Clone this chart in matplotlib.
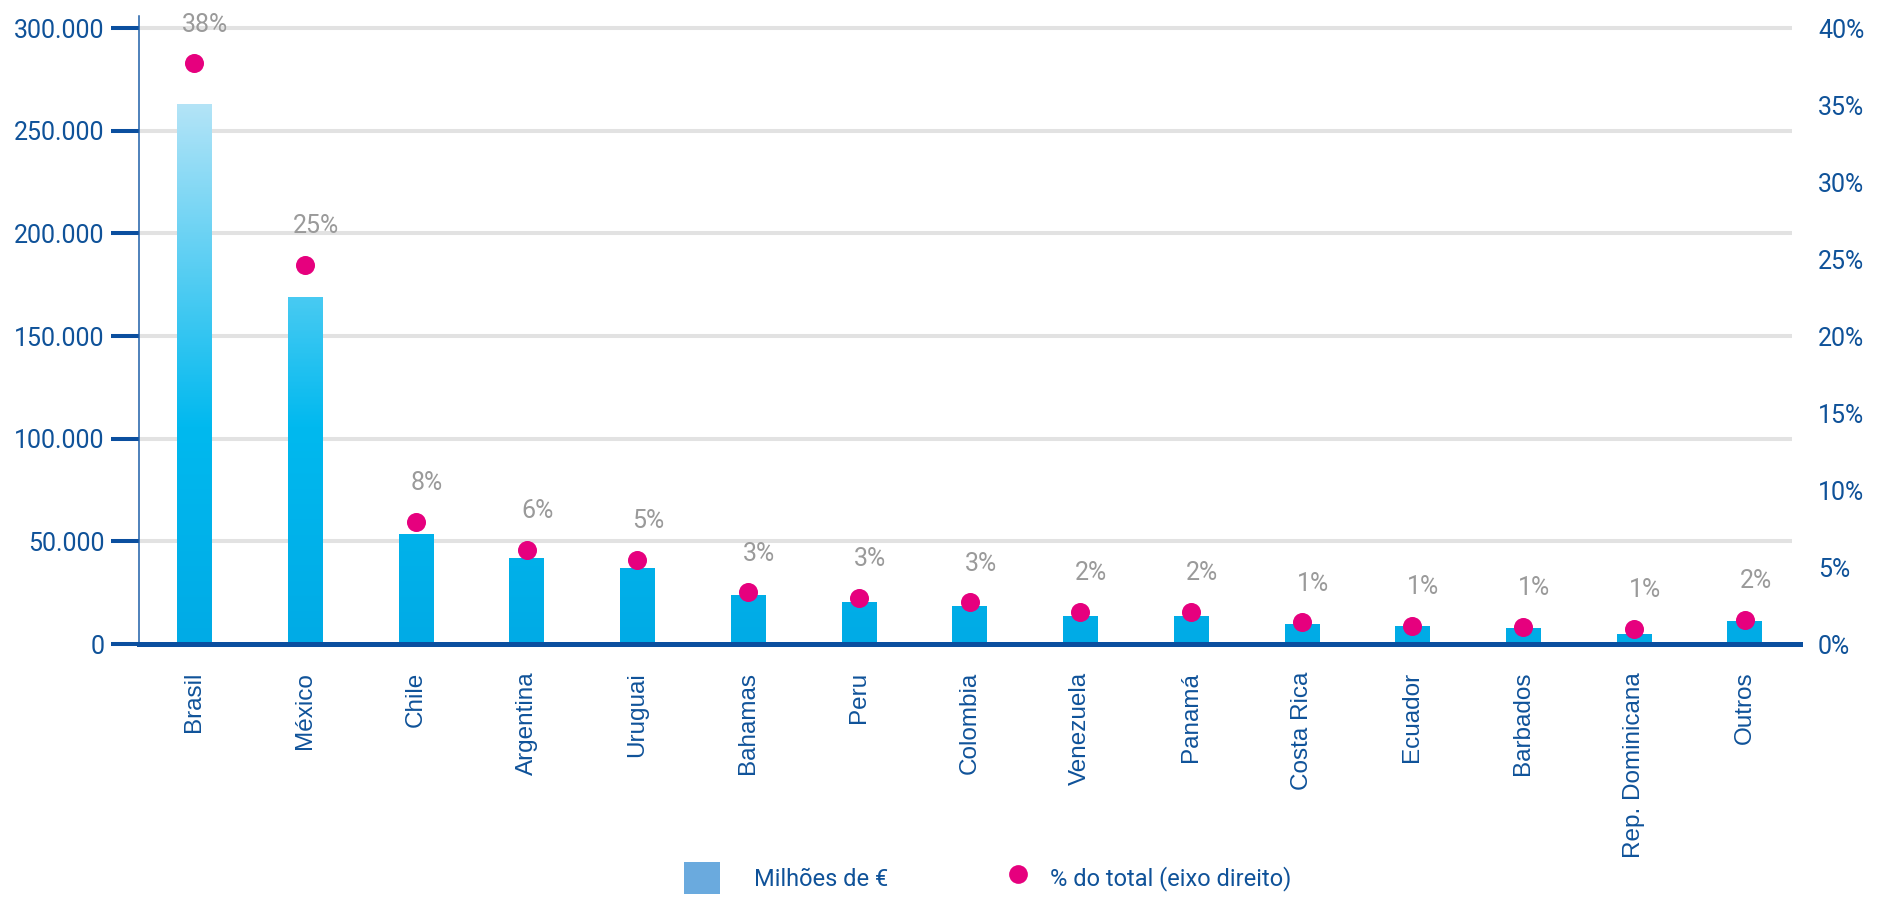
import numpy as np
import matplotlib
matplotlib.use("Agg")
import matplotlib.pyplot as plt
from matplotlib.colors import LinearSegmentedColormap, Normalize
from matplotlib.lines import Line2D
from matplotlib.patches import Rectangle

# ---------------- data ----------------
countries = ["Brasil", "México", "Chile", "Argentina", "Uruguai", "Bahamas", "Peru",
             "Colombia", "Venezuela", "Panamá", "Costa Rica", "Ecuador", "Barbados",
             "Rep. Dominicana", "Outros"]
values_meur = [263000, 169000, 53700, 42100, 36800, 24000, 20500, 18700, 13450, 13450,
               9900, 8800, 7600, 4700, 11100]
pct_total = [37.7, 24.6, 7.95, 6.1, 5.46, 3.35, 3.0, 2.7, 2.1, 2.1, 1.4, 1.2, 1.1, 1.0, 1.56]
left_ticks = [0, 50000, 100000, 150000, 200000, 250000, 300000]
right_ticks = [0, 5, 10, 15, 20, 25, 30, 35, 40]
legend_labels = ["Milhões de €", "% do total (eixo direito)"]

# ---------------- style ----------------
BLUE = "#0f5299"
GRID = "#e2e2e2"
PINK = "#e6007e"
GRAY = "#9a9a9a"
NUM_FONT = ["Roboto", "DejaVu Sans"]
CAT_FONT = ["Liberation Sans", "DejaVu Sans"]
LEG_FONT = ["Roboto", "DejaVu Sans"]

fig = plt.figure(figsize=(18.89, 9.06), dpi=100)
ax = fig.add_axes([139 / 1889, 1 - 644 / 906, (1800 - 139) / 1889, (644 - 15.7) / 906])
ax2 = ax.twinx()

x = np.arange(len(countries))
ymax = 306000

# gridlines
for t in left_ticks[1:]:
    ax.hlines(t, -0.5, len(countries) - 0.57, color=GRID, lw=2.9, zorder=0)

# bars with vertical gradient
cmap = LinearSegmentedColormap.from_list(
    "bargrad", [(0.0, "#00abe6"), (0.40, "#00b9ef"), (1.0, "#b4e4f7")])
norm = Normalize(0, max(values_meur))
bars = ax.bar(x, values_meur, width=0.31, color="none", edgecolor="none", zorder=2)
for b in bars:
    x0, w, h = b.get_x(), b.get_width(), b.get_height()
    grad = np.linspace(0, h, 256)[:, None]
    im = ax.imshow(grad, extent=[x0, x0 + w, 0, h], origin="lower", aspect="auto",
                   cmap=cmap, norm=norm, zorder=2, interpolation="bilinear")
    im.set_clip_path(b)
ax.set_xlim(-0.5, len(countries) - 0.5)
ax.set_ylim(0, ymax)
ax2.set_ylim(0, 40 * ymax / 300000)

# dots on right axis
ax2.plot(x, pct_total, linestyle="none", marker="o", markersize=13.7,
         color=PINK, markeredgewidth=0, zorder=5)
for xi, p in zip(x, pct_total):
    ax2.annotate(f"{round(p):.0f}%", (xi, p), xytext=(8, 28), textcoords="offset points",
                 ha="center", va="center", color=GRAY, fontsize=18, family=NUM_FONT,
                 annotation_clip=False)

ax2.set_zorder(ax.get_zorder() + 1)
ax2.patch.set_visible(False)

# left axis
ax.set_yticks(left_ticks)
ax.set_yticklabels([f"{t:,.0f}".replace(",", ".") for t in left_ticks],
                   family=NUM_FONT, fontsize=18, color=BLUE)
ax.tick_params(axis="y", length=20, width=2.9, color="#0b4f9f", pad=5)
ax.set_xticks(x)
ax.set_xticklabels(countries, rotation=90, family=CAT_FONT, fontsize=17.5, color=BLUE,
                   va="top", ha="center")
ax.tick_params(axis="x", length=0, pad=20)
for s in ["top", "right"]:
    ax.spines[s].set_visible(False)
ax.spines["left"].set_color("#1e5fa8")
ax.spines["left"].set_linewidth(1.1)
ax.spines["bottom"].set_color("#0b4f9f")
ax.spines["bottom"].set_linewidth(3.6)
ax.spines["bottom"].set_zorder(6)

# right axis
ax2.set_yticks(right_ticks)
ax2.set_yticklabels([f"{t}%" for t in right_ticks], family=NUM_FONT, fontsize=18, color=BLUE)
ax2.tick_params(axis="y", length=0, pad=13)
for s in ax2.spines.values():
    s.set_visible(False)

# legend (two separate entries to match spacing)
h_bar = Rectangle((0, 0), 1, 1, facecolor="#6aaade", edgecolor="none")
h_dot = Line2D([], [], linestyle="none", marker="o", markersize=13.5, color=PINK,
               markeredgewidth=0)
leg_y = 1 - 878 / 906
leg1 = fig.legend([h_bar], [legend_labels[0]], loc="center left",
                  bbox_to_anchor=(663 / 1889, leg_y), frameon=False,
                  handlelength=1.5, handleheight=1.7, handletextpad=1.45,
                  prop={"family": LEG_FONT, "size": 17})
leg2 = fig.legend([h_dot], [legend_labels[1]], loc="center left",
                  bbox_to_anchor=(985 / 1889, leg_y), frameon=False,
                  handlelength=1.0, handleheight=1.7, handletextpad=0.87,
                  prop={"family": LEG_FONT, "size": 17})
for lg in (leg1, leg2):
    for t in lg.get_texts():
        t.set_color(BLUE)

fig.savefig("out.png", dpi=100)
